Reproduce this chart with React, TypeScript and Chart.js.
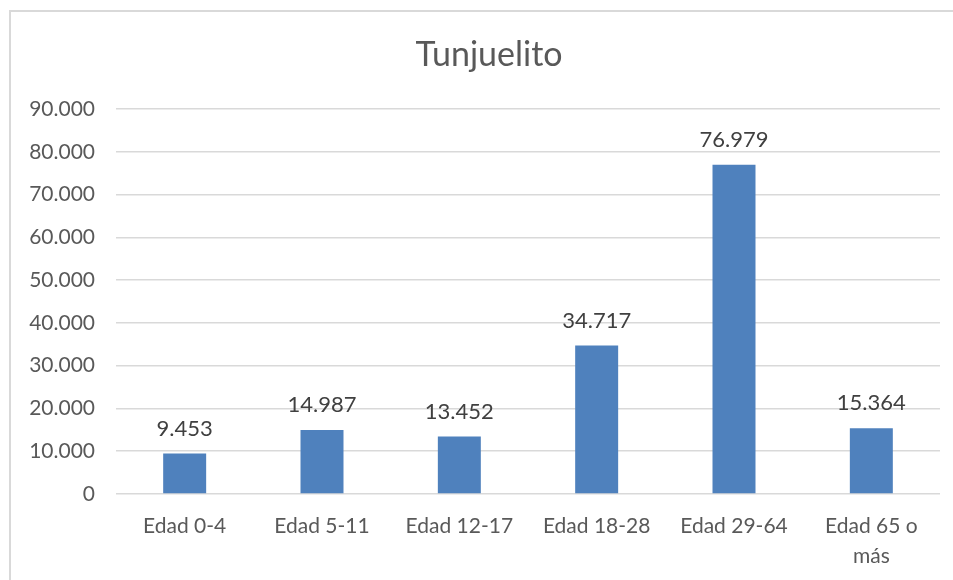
import React, { useEffect, useRef } from "react";
import { Chart, registerables } from "chart.js";

Chart.register(...registerables);

const categories: (string | string[])[] = ["Edad 0-4", "Edad 5-11", "Edad 12-17", "Edad 18-28", "Edad 29-64", ["Edad 65 o", "más"]];
const values: number[] = [9453, 14987, 13452, 34717, 76979, 15364];
const yTicks: number[] = [0, 10000, 20000, 30000, 40000, 50000, 60000, 70000, 80000, 90000];
const titleText = "Tunjuelito";

const fmt = (v: number) => v.toLocaleString("de-DE");

const FONT = "Lato, 'Open Sans', sans-serif";

const dataLabels = {
  id: "dataLabels",
  afterDatasetsDraw(chart: any) {
    const ctx = chart.ctx;
    const meta = chart.getDatasetMeta(0);
    ctx.save();
    ctx.font = `22px ${FONT}`;
    ctx.fillStyle = "#404040";
    ctx.textAlign = "center";
    ctx.textBaseline = "bottom";
    meta.data.forEach((bar: any, i: number) => {
      ctx.fillText(fmt(values[i]), bar.x, bar.y - 14);
    });
    ctx.restore();
  },
};

const chartTitle = {
  id: "chartTitle",
  afterDraw(chart: any) {
    const ctx = chart.ctx;
    ctx.save();
    ctx.font = `34px ${FONT}`;
    ctx.fillStyle = "#595959";
    ctx.textAlign = "center";
    ctx.textBaseline = "middle";
    ctx.fillText(titleText, chart.width / 2 + 7, 43);
    ctx.restore();
  },
};

export default function App() {
  const ref = useRef<HTMLCanvasElement>(null);
  useEffect(() => {
    document.body.style.overflow = "hidden";
    const chart = new Chart(ref.current!, {
      type: "bar",
      data: {
        labels: categories,
        datasets: [
          {
            data: values,
            backgroundColor: "#4F81BD",
            barPercentage: 0.313,
            categoryPercentage: 1,
          },
        ],
      },
      options: {
        animation: false,
        responsive: false,
        maintainAspectRatio: false,
        layout: { padding: { left: 0, right: 13, top: 97, bottom: 0 } },
        plugins: {
          legend: { display: false },
          tooltip: { enabled: false },
          title: { display: false },
        },
        scales: {
          x: {
            grid: { display: false },
            border: { display: false },
            ticks: {
              color: "#595959",
              font: { family: FONT, size: 21, lineHeight: 1.43 },
              padding: 9,
              maxRotation: 0,
              autoSkip: false,
            },
            afterFit(scale: any) {
              scale.height = 86;
            },
          },
          y: {
            min: 0,
            max: 90000,
            afterBuildTicks(scale: any) {
              scale.ticks = yTicks.map((v) => ({ value: v }));
            },
            grid: { color: "#d9d9d9", lineWidth: 1.5, drawTicks: false },
            border: { display: false },
            ticks: {
              color: "#595959",
              font: { family: FONT, size: 21 },
              padding: 21,
              callback: (v: any) => fmt(Number(v)),
            },
            afterFit(scale: any) {
              scale.width = 105;
            },
          },
        },
      },
      plugins: [dataLabels, chartTitle],
    });
    return () => chart.destroy();
  }, []);
  return (
    <div
      style={{
        position: "fixed",
        left: 9,
        top: 10,
        width: 944,
        height: 570,
        borderLeft: "2px solid #d9d9d9",
        borderTop: "2px solid #d9d9d9",
        background: "#fff",
        boxSizing: "border-box",
      }}
    >
      <canvas ref={ref} width={942} height={568} style={{ display: "block" }} />
    </div>
  );
}
